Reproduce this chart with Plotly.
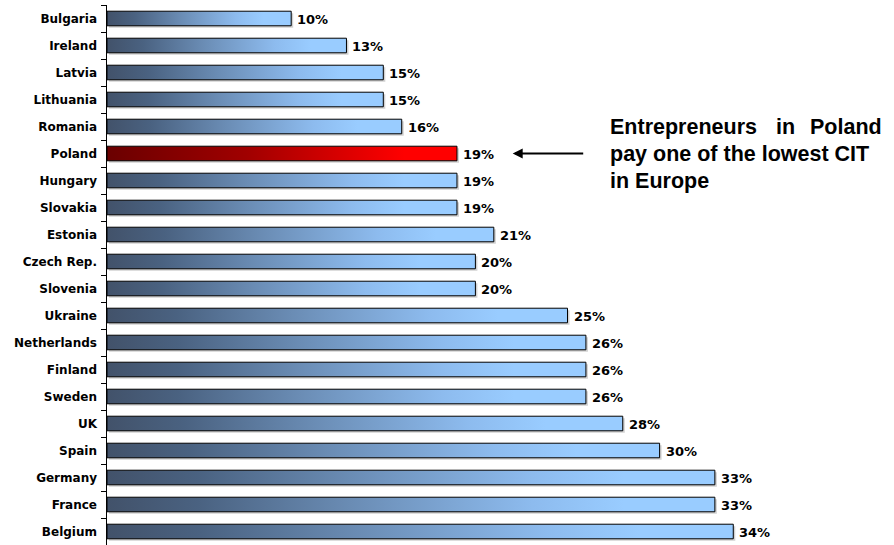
import plotly.graph_objects as go

# Corporate income tax rates (CIT), %
countries = ["Bulgaria", "Ireland", "Latvia", "Lithuania", "Romania", "Poland",
             "Hungary", "Slovakia", "Estonia", "Czech Rep.", "Slovenia", "Ukraine",
             "Netherlands", "Finland", "Sweden", "UK", "Spain", "Germany", "France",
             "Belgium"]
rates = [10, 13, 15, 15, 16, 19, 19, 19, 21, 20, 20, 25, 26, 26, 26, 28, 30, 33, 33, 34]
highlight = "Poland"

blue_scale = [[0.0, "#42526a"], [0.15, "#4a6281"], [0.4, "#6a8cb4"],
              [0.7, "#8dbbee"], [0.85, "#99ccff"], [1.0, "#99ccff"]]
red_scale = [[0.0, "#6a0000"], [0.4, "#a00000"], [0.85, "#ff0000"], [1.0, "#ff0000"]]

BAR_HALF = 0.27
PX_PER_PCT = 18.42
ROW_PX = 27
PLOT_W = 894 - 107
n = len(countries)

# drop-shadow offset (2 px right, 2 px down) expressed in axis units
SH_X = 2 / PX_PER_PCT
SH_Y = 2 / ROW_PX

fig = go.Figure()

for i, (name, val) in enumerate(zip(countries, rates)):
    top, bot = i - BAR_HALF, i + BAR_HALF
    fig.add_trace(go.Scatter(
        x=[SH_X, val + SH_X, val + SH_X, SH_X, SH_X],
        y=[top + SH_Y, top + SH_Y, bot + SH_Y, bot + SH_Y, top + SH_Y],
        mode="lines", fill="toself", fillcolor="rgba(140,140,140,0.4)",
        line=dict(width=0), hoverinfo="skip", showlegend=False,
    ))
    fig.add_trace(go.Scatter(
        x=[0, val, val, 0, 0], y=[top, top, bot, bot, top],
        mode="lines", fill="toself",
        line=dict(color="#000000", width=1),
        fillgradient=dict(type="horizontal",
                          colorscale=red_scale if name == highlight else blue_scale),
        hoverinfo="skip", showlegend=False,
    ))
    fig.add_annotation(
        x=val, y=i, text=f"{val}%", showarrow=False,
        xanchor="left", yanchor="middle", xshift=4, yshift=-1,
        font=dict(family="DejaVu Sans", size=13, color="#000000", weight="bold"),
    )

# invisible trace on the overlay axis that carries the category names
fig.add_trace(go.Scatter(x=[0], y=[0], yaxis="y2", mode="markers",
                         marker=dict(opacity=0), hoverinfo="skip", showlegend=False))

boundaries = [k - 0.5 for k in range(n + 1)]

fig.update_layout(
    xaxis=dict(range=[0, PLOT_W / PX_PER_PCT], visible=False, fixedrange=True),
    # main axis: line + tick marks between categories
    yaxis=dict(
        range=[n - 0.5, -0.5],
        tickmode="array", tickvals=boundaries, ticktext=[""] * len(boundaries),
        ticks="outside", ticklen=5, tickcolor="#000000", tickwidth=1,
        showline=True, linecolor="#000000", linewidth=1,
        showgrid=False, zeroline=False,
    ),
    # overlay axis: category names centred on each bar
    yaxis2=dict(
        overlaying="y", side="left", anchor="x",
        range=[n - 0.5, -0.5],
        tickmode="array", tickvals=list(range(n)), ticktext=countries,
        ticks="", showline=False, showgrid=False, zeroline=False,
        ticklabelstandoff=9,
        tickfont=dict(family="DejaVu Sans", size=12, color="#000000", weight="bold"),
    ),
)

# Callout text and arrow pointing at the highlighted bar
pol = countries.index(highlight)
title_font = dict(family="Liberation Sans", size=21.5, color="#000000", weight="bold")
fig.add_annotation(x=0.637, xref="x domain", y=pol - 1, text="Entrepreneurs",
                   showarrow=False, xanchor="left", yanchor="middle", font=title_font)
fig.add_annotation(x=0.862, xref="x domain", y=pol - 1, text="in",
                   showarrow=False, xanchor="center", yanchor="middle", font=title_font)
fig.add_annotation(x=1.0, xref="x domain", y=pol - 1, text="Poland", xshift=-10,
                   showarrow=False, xanchor="right", yanchor="middle", font=title_font)
fig.add_annotation(x=0.637, xref="x domain", y=pol, text="pay one of the lowest CIT",
                   showarrow=False, xanchor="left", yanchor="middle", font=title_font)
fig.add_annotation(x=0.637, xref="x domain", y=pol + 1, text="in Europe",
                   showarrow=False, xanchor="left", yanchor="middle", font=title_font)
fig.add_annotation(x=0.5155, xref="x domain", y=pol, ax=0.607, axref="x domain",
                   ay=pol, ayref="y", text="", showarrow=True, arrowhead=2,
                   arrowsize=1, arrowwidth=2, arrowcolor="#000000")

fig.update_layout(
    width=894, height=545,
    margin=dict(l=107, r=0, t=5, b=0),
    paper_bgcolor="#ffffff", plot_bgcolor="#ffffff",
    showlegend=False,
)

fig.write_html("out.html")
